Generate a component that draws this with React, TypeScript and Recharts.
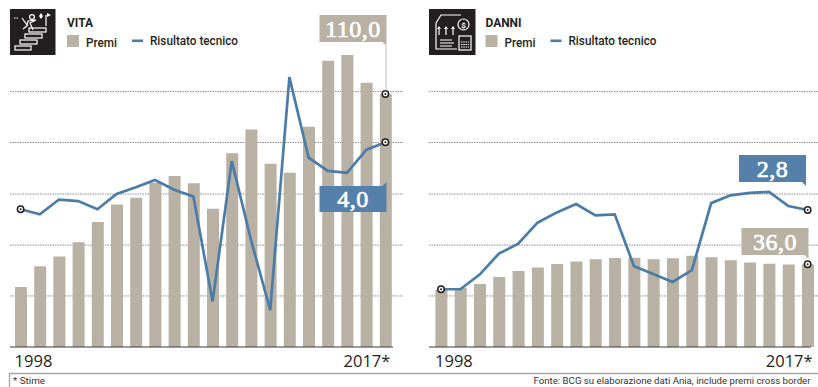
import React from 'react';
import {
  Bar,
  CartesianGrid,
  ComposedChart,
  Line,
  ReferenceDot,
  XAxis,
  YAxis,
} from 'recharts';

const years = [
  '1998', '1999', '2000', '2001', '2002', '2003', '2004', '2005', '2006', '2007',
  '2008', '2009', '2010', '2011', '2012', '2013', '2014', '2015', '2016', '2017*',
];
const yearTicks = ['1998', '2017*'];

const vitaPremi = [26.1, 35.1, 39.3, 45.5, 54.3, 62, 64.9, 71.4, 74.3, 71.2, 60.1, 84.2, 94.6, 79.7, 75.8, 95.8, 124.5, 127, 114.9, 110];
const vitaRisultato = [2.69, 2.59, 2.88, 2.85, 2.69, 2.99, 3.12, 3.26, 3.07, 2.94, 0.89, 3.63, 2.09, 0.72, 5.27, 3.7, 3.44, 3.4, 3.85, 4];

const danniPremi = [24.9, 25.7, 27.4, 30.4, 33, 34.6, 36.1, 37.2, 38.1, 38.7, 38.8, 38.1, 38.6, 39.7, 39, 37.7, 36.7, 36.2, 35.9, 36];
const danniRisultato = [1.18, 1.18, 1.48, 1.91, 2.11, 2.54, 2.75, 2.92, 2.69, 2.71, 1.65, 1.49, 1.33, 1.57, 2.94, 3.1, 3.15, 3.17, 2.88, 2.8];

const gridValues = [22.2, 44.3, 66.5, 88.9, 111.1];

const BEIGE = '#b9b1a3';
const BLUE = '#4b7ca8';
const BOX_BLUE = '#5580aa';
const INK = '#231f20';
const SANS = 'Roboto, "Open Sans", sans-serif';
const SERIF = '"Liberation Serif", serif';

const Ring = ({ cx, cy }: { cx?: number; cy?: number }) => (
  <g>
    <circle cx={cx} cy={cy} r={3.2} fill="#fff" stroke={INK} strokeWidth={1.5} />
    <circle cx={cx} cy={cy} r={1} fill={INK} />
  </g>
);

const YearTick = ({ x, y, payload }: any) => {
  const first = payload.value === yearTicks[0];
  return (
    <text
      x={first ? x - 6 : x + 5}
      y={y + 12}
      textAnchor={first ? 'start' : 'end'}
      fontFamily='"Open Sans", sans-serif'
      fontSize={16.5}
      fill={INK}
    >
      {payload.value}
    </text>
  );
};

interface PanelProps {
  premi: number[];
  risultato: number[];
  left: number;
  width: number;
  marginLeft: number;
  marginRight: number;
  paddingLeft: number;
  paddingRight: number;
  lineMax: number;
}

const Panel = ({ premi, risultato, left, width, marginLeft, marginRight, paddingLeft, paddingRight, lineMax }: PanelProps) => {
  const rows = years.map((year, i) => ({ year, premi: premi[i], risultato: risultato[i] }));
  const lastYear = years[years.length - 1];
  return (
    <div style={{ position: 'absolute', left, top: 0 }}>
      <ComposedChart
        width={width}
        height={387}
        data={rows}
        margin={{ top: 48, right: marginRight, bottom: 0, left: marginLeft }}
        barCategoryGap={0}
      >
        <YAxis yAxisId="premi" hide domain={[0, 130]} />
        <YAxis yAxisId="risultato" hide domain={[0, lineMax]} orientation="right" />
        <XAxis
          dataKey="year"
          ticks={yearTicks}
          interval={0}
          height={40}
          axisLine={false}
          tickLine={false}
          tick={<YearTick />}
          padding={{ left: paddingLeft, right: paddingRight }}
        />
        <CartesianGrid
          yAxisId="premi"
          vertical={false}
          horizontalValues={gridValues}
          stroke="#8f8f8f"
          strokeDasharray="1.5 1"
        />
        <Bar yAxisId="premi" dataKey="premi" fill={BEIGE} barSize={12} isAnimationActive={false} />
        <Line
          yAxisId="risultato"
          dataKey="risultato"
          stroke={BLUE}
          strokeWidth={2.7}
          strokeLinejoin="miter"
          isAnimationActive={false}
          dot={(p: any) =>
            p.index === 0 || p.index === years.length - 1 ? (
              <Ring key={p.index} cx={p.cx} cy={p.cy} />
            ) : (
              <g key={p.index} />
            )
          }
          activeDot={false}
        />
        <ReferenceDot yAxisId="premi" x={lastYear} y={premi[premi.length - 1]} shape={(p: any) => <Ring cx={p.cx} cy={p.cy} />} />
      </ComposedChart>
    </div>
  );
};

// Value box with a small tail on its right edge
const Callout = ({ x, y, w, h, fill, label, tail }: { x: number; y: number; w: number; h: number; fill: string; label: string; tail: 'up' | 'down' }) => (
  <g>
    <rect x={x} y={y} width={w} height={h} fill={fill} />
    {tail === 'down' ? (
      <path d={`M${x + w - 4} ${y + h} L${x + w} ${y + h} L${x + w} ${y + h + 4} Z`} fill={fill} />
    ) : (
      <path d={`M${x + w - 4} ${y} L${x + w} ${y} L${x + w} ${y - 4} Z`} fill={fill} />
    )}
    <text
      x={x + w / 2}
      y={y + h / 2 + 8}
      textAnchor="middle"
      fontFamily={SERIF}
      fontSize={24}
      letterSpacing={0.5}
      stroke="#fff"
      strokeWidth={0.7}
      fill="#fff"
    >
      {label}
    </text>
  </g>
);

const Legend = ({ x, title, titleWidth }: { x: number; title: string; titleWidth: number }) => (
  <g fontFamily={SANS} fill={INK}>
    <text x={x} y={26.5} fontSize={12.5} fontWeight={700} textLength={titleWidth} lengthAdjust="spacingAndGlyphs">{title}</text>
    <rect x={x} y={35} width={12} height={12} fill={BEIGE} />
    <text x={x + 19} y={46.5} fontSize={13} fontWeight={500} textLength={31} lengthAdjust="spacingAndGlyphs">Premi</text>
    <rect x={x + 65} y={39.5} width={11} height={2.6} fill={BLUE} />
    <text x={x + 83} y={44.5} fontSize={13} fontWeight={500} textLength={88} lengthAdjust="spacingAndGlyphs">Risultato tecnico</text>
  </g>
);

const VitaIcon = () => (
  <g>
    <rect x={10} y={9} width={45.5} height={46} fill={INK} />
    <g fill="none" stroke="#fff" strokeWidth={1.2}>
      <rect x={15} y={46} width={16} height={4} />
      <rect x={20} y={40} width={17} height={4} />
      <rect x={25} y={34} width={17} height={4} />
      <rect x={29} y={28} width={17} height={4} />
      <circle cx={32} cy={17} r={2.4} />
      <path d="M22 18 L27 25 L28 21 L36 20 L30 23 L33 30 M28 25 L23 29" />
      <path d="M14 18 h5" strokeDasharray="1.5 1" />
      <path d="M46 15 V26" />
    </g>
    <path d="M41 13 L43 16 L41 19 L39 16 Z M47 13 L51 15 L47 17 Z" fill="#fff" />
  </g>
);

const DanniIcon = () => (
  <g>
    <rect x={429} y={9} width={46.5} height={46} fill={INK} />
    <g fill="none" stroke="#fff" strokeWidth={1.2}>
      <path d="M436 23 L441 15 H461 M436 23 V49 H457" />
      <circle cx={463.5} cy={24.5} r={5.5} />
      <rect x={459} y={36} width={12} height={14} />
      <path d="M439 35 V28 M446 35 V28 M453 35 V28" />
      <path d="M440 40 H452 M440 43 H454 M440 46 H452" />
    </g>
    <path d="M439 26 L441 29 H437 Z M446 26 L448 29 H444 Z M453 26 L455 29 H451 Z" fill="#fff" />
    <text x={463.5} y={27.5} fontSize={8} fontWeight={700} textAnchor="middle" fontFamily={SANS} fill="#fff">$</text>
    <path d="M461 42 h8 M461 44.5 h8 M461 47 h8" stroke="#fff" strokeWidth={1.2} strokeDasharray="1.5 0.8" />
  </g>
);

export default function App() {
  return (
    <div style={{ position: 'absolute', left: 0, top: 0, width: 818, height: 387, background: '#fff', overflow: 'hidden' }}>
      <Panel
        premi={vitaPremi}
        risultato={vitaRisultato}
        left={0}
        width={410}
        marginLeft={10}
        marginRight={7}
        paddingLeft={1}
        paddingRight={8}
        lineMax={5.84}
      />
      <Panel
        premi={danniPremi}
        risultato={danniRisultato}
        left={410}
        width={408}
        marginLeft={19}
        marginRight={0}
        paddingLeft={2.4}
        paddingRight={0.7}
        lineMax={6.11}
      />
      <svg width={818} height={387} style={{ position: 'absolute', left: 0, top: 0, pointerEvents: 'none' }}>
        <VitaIcon />
        <DanniIcon />
        <Legend x={67} title="VITA" titleWidth={26} />
        <Legend x={485.5} title="DANNI" titleWidth={36} />

        <line x1={10} x2={393} y1={347} y2={347} stroke="#3a3a3a" strokeWidth={1} />
        <line x1={429} x2={811} y1={347} y2={347} stroke="#3a3a3a" strokeWidth={1} />

        <line x1={386} x2={386} y1={46} y2={91} stroke="#a9a9a9" strokeWidth={0.8} />
        <Callout x={319.5} y={15} w={67} h={27} fill={BEIGE} label="110,0" tail="down" />
        <Callout x={319.5} y={186} w={67} h={26} fill={BOX_BLUE} label="4,0" tail="up" />
        <Callout x={739} y={155} w={67} h={27} fill={BOX_BLUE} label="2,8" tail="down" />
        <Callout x={741.5} y={228} w={67} h={27} fill={BEIGE} label="36,0" tail="down" />

        <path d="M818 373.5 H9.5 V387" fill="none" stroke="#a8a8a8" strokeWidth={1.4} />
        <text x={13} y={383.5} fontFamily={SANS} fontSize={9.5} fill="#333" textLength={32} lengthAdjust="spacingAndGlyphs">* Stime</text>
        <text x={533.5} y={383.5} fontFamily={SANS} fontSize={9.5} fill="#333" textLength={277} lengthAdjust="spacingAndGlyphs">
          Fonte: BCG su elaborazione dati Ania, include premi cross border
        </text>
      </svg>
    </div>
  );
}
